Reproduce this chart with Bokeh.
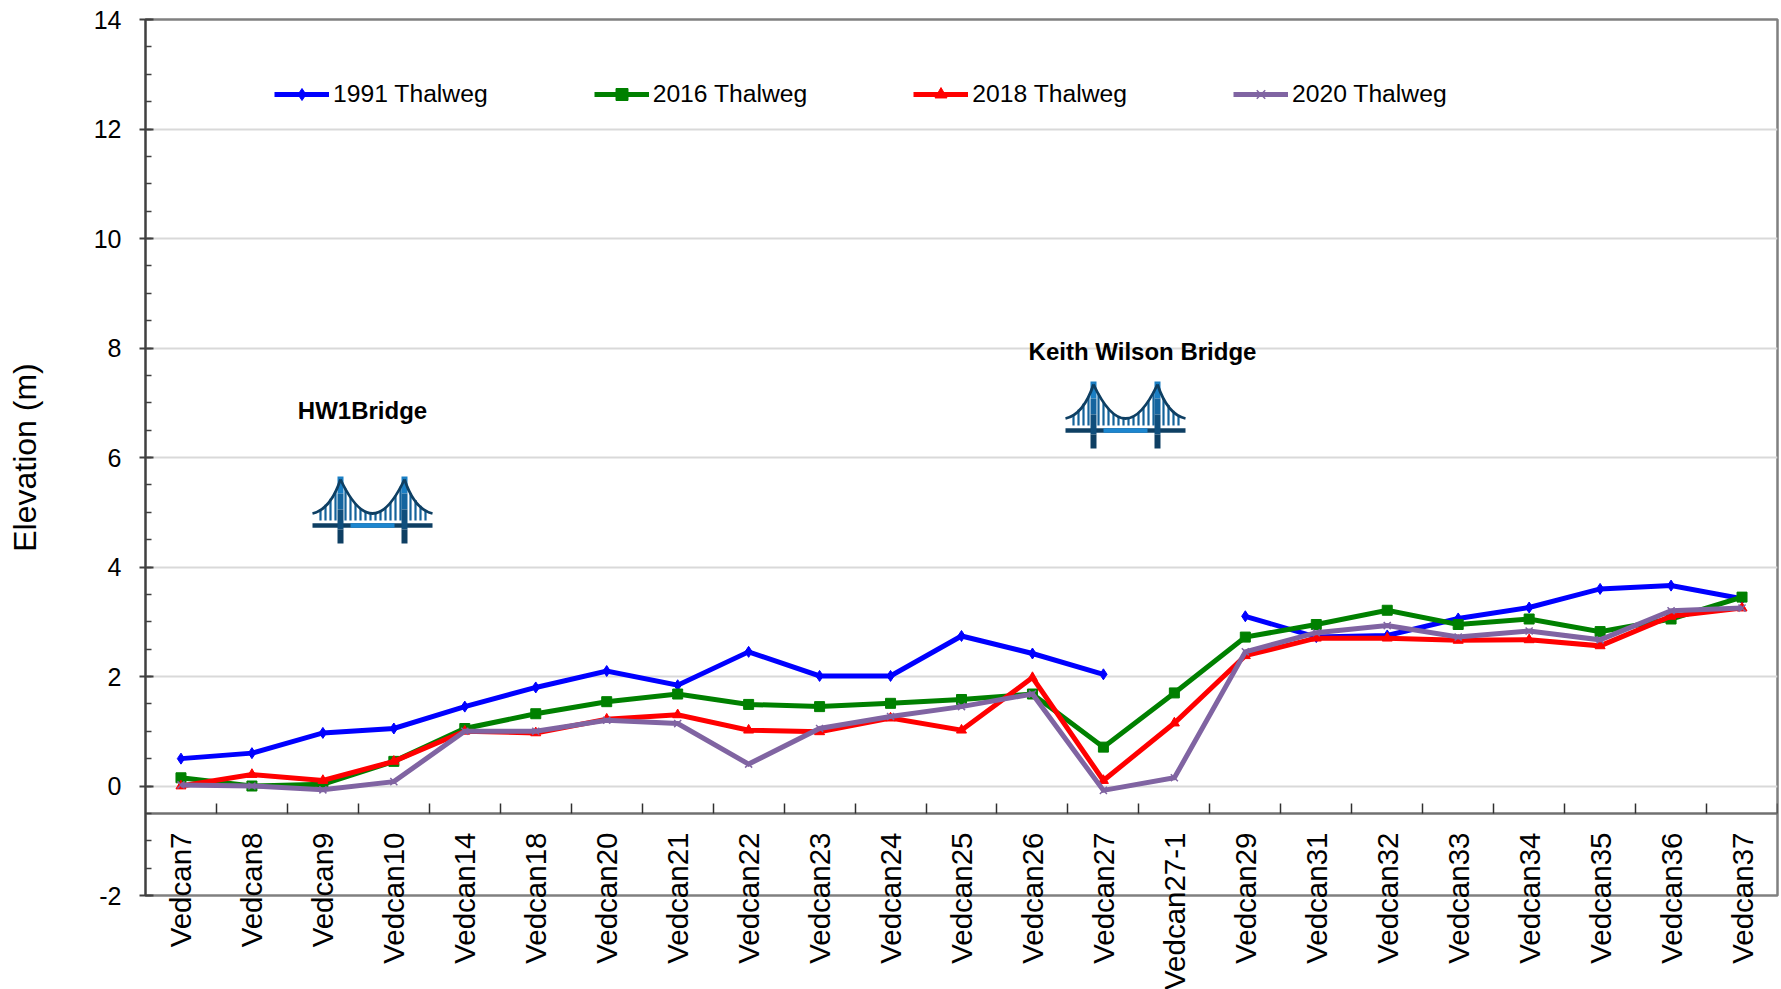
import math
from bokeh.embed import file_html
from bokeh.resources import INLINE
from bokeh.plotting import figure
from bokeh.models import FixedTicker, Legend, LegendItem, Label, Range1d, LinearAxis

categories = ["Vedcan7","Vedcan8","Vedcan9","Vedcan10","Vedcan14","Vedcan18","Vedcan20","Vedcan21",
              "Vedcan22","Vedcan23","Vedcan24","Vedcan25","Vedcan26","Vedcan27","Vedcan27-1","Vedcan29",
              "Vedcan31","Vedcan32","Vedcan33","Vedcan34","Vedcan35","Vedcan36","Vedcan37"]
t1991 = [0.50,0.60,0.97,1.05,1.45,1.80,2.10,1.84,2.45,2.01,2.01,2.74,2.42,2.04,None,3.10,2.72,2.75,3.06,3.26,3.60,3.66,3.42]
t2016 = [0.15,0.00,0.03,0.45,1.05,1.32,1.54,1.68,1.49,1.45,1.51,1.58,1.68,0.71,1.70,2.72,2.95,3.21,2.95,3.05,2.82,3.05,3.45]
t2018 = [0.00,0.21,0.10,0.45,1.00,0.97,1.22,1.30,1.02,0.99,1.24,1.02,1.98,0.10,1.15,2.38,2.70,2.70,2.66,2.67,2.56,3.10,3.25]
t2020 = [0.02,0.00,-0.07,0.08,1.00,1.00,1.20,1.14,0.40,1.05,1.27,1.45,1.68,-0.08,0.15,2.45,2.80,2.93,2.72,2.83,2.67,3.20,3.25]
y_major = [-2,0,2,4,6,8,10,12,14]
y_minor = [v*0.5 for v in range(-4,29)]

FONT = "Liberation Sans"
W, H = 1781, 989
L, R, T, B = 145, 1777, 19, 895   # frame edges, page pixels
n = len(categories)

p = figure(width=W, height=H, output_backend="svg", toolbar_location=None,
           x_range=Range1d(-0.5, n-0.5), y_range=Range1d(-2, 14),
           frame_width=R-L, frame_height=B-T,
           min_border_left=L, min_border_top=T, min_border_right=W-R, min_border_bottom=H-B,
           background_fill_color="white", border_fill_color=None,
           outline_line_color="#808080", outline_line_width=2.5)

def px(v): return -0.5 + (v-L)/(R-L)*n
def py(v): return 14 - (v-T)/(B-T)*16

p.xgrid.visible = False
p.ygrid.grid_line_color = "#D9D9D9"
p.ygrid.grid_line_width = 2

yax = p.yaxis[0]
yax.ticker = FixedTicker(ticks=y_major, minor_ticks=y_minor)
yax.major_label_overrides = {-2: "-2"}
yax.major_label_text_font = FONT
yax.major_label_text_font_size = "25px"
yax.major_label_text_color = "black"
yax.major_label_standoff = 18
yax.axis_line_color = "#404040"
yax.axis_line_width = 2
yax.major_tick_line_color = "#404040"
yax.major_tick_line_width = 2
yax.major_tick_in = 8
yax.major_tick_out = 6
yax.minor_tick_line_color = "#404040"
yax.minor_tick_line_width = 1.5
yax.minor_tick_in = 6
yax.minor_tick_out = 0

# the axis title sits off the frame's centre: a bare axis whose span is centred where the title belongs
title_ax = LinearAxis(ticker=FixedTicker(ticks=[]), bounds=(-2, 13.46), axis_label="Elevation (m)")
title_ax.axis_line_color = None
title_ax.major_tick_line_color = None
title_ax.minor_tick_line_color = None
title_ax.major_tick_in = 0
title_ax.major_tick_out = 0
title_ax.minor_tick_in = 0
title_ax.minor_tick_out = 0
title_ax.axis_label_text_font = FONT
title_ax.axis_label_text_font_size = "32px"
title_ax.axis_label_text_font_style = "normal"
title_ax.axis_label_text_color = "black"
title_ax.axis_label_standoff = 48
p.add_layout(title_ax, "left")

# category labels: an axis on the frame's lower edge, its labels pulled back up to overhang the edge
xax = p.xaxis[0]
xax.ticker = FixedTicker(ticks=list(range(n)))
xax.major_label_overrides = {i: c for i, c in enumerate(categories)}
xax.major_label_orientation = math.pi/2
xax.major_label_text_font = FONT
xax.major_label_text_font_size = "29.5px"
xax.major_label_text_color = "black"
xax.major_label_standoff = -63
xax.axis_line_color = None
xax.major_tick_line_color = None
xax.minor_tick_line_color = None
xax.major_tick_in = 0
xax.major_tick_out = 0

# the category axis line with its separators, crossing at -0.5
sep = LinearAxis(fixed_location=-0.5, ticker=FixedTicker(ticks=[], minor_ticks=[i+0.5 for i in range(n)]))
sep.axis_line_color = "#707070"
sep.axis_line_width = 2.5
sep.minor_tick_line_color = "#303030"
sep.minor_tick_line_width = 1.5
sep.minor_tick_in = 10
sep.minor_tick_out = 0
p.add_layout(sep, "below")

# bridge pictograms
def bridge(cx, deck):
    navy, mid, bright = "#0E3F63", "#14639B", "#1C86CF"
    X = lambda d: px(cx+d)
    Y = lambda d: py(deck+d)
    for i in range(1, 23):
        d = -57 + i*5
        if abs(abs(d)-32) < 3: continue
        if abs(d) <= 32:
            top = -12 - 35*(abs(d)/32)**2
        else:
            top = -12 - 30*((60-abs(d))/28)**1.6
        p.segment([X(d)], [Y(top)], [X(d)], [Y(-5)], line_color=mid, line_width=2.2)
    p.segment([X(-60)], [Y(0)], [X(60)], [Y(0)], line_color=navy, line_width=4.5)
    p.segment([X(-22)], [Y(0)], [X(22)], [Y(0)], line_color=bright, line_width=4.5)
    for side in (-1, 1):
        bands = [(-49, -32, "#1B7FC4"), (-32, -16, "#15659F"), (-16, 4, "#0F4E7C"), (4, 18, navy)]
        for a, b, col in bands:
            p.segment([X(side*32)], [Y(a)], [X(side*32)], [Y(b)], line_color=col, line_width=6)
        p.quadratic([X(side*60)], [Y(-12)], [X(side*32)], [Y(-46)], [X(side*42)], [Y(-16)],
                    line_color=navy, line_width=2.8)
    p.quadratic([X(-32)], [Y(-46)], [X(32)], [Y(-46)], [X(0)], [Y(22)], line_color=navy, line_width=2.8)

bridge(372, 525)
bridge(1125, 430)

x = list(range(n))
nan = float("nan")
def clean(a): return [nan if v is None else v for v in a]
series = [("1991 Thalweg", t1991, "#0000FF", "diamond", 11),
          ("2016 Thalweg", t2016, "#008000", "square", 10),
          ("2018 Thalweg", t2018, "#FF0000", "triangle", 10),
          ("2020 Thalweg", t2020, "#8064A2", "x", 10)]
items = []
for name, vals, col, mk, size in series:
    v = clean(vals)
    ln = p.line(x, v, line_color=col, line_width=5, line_join="miter")
    if mk == "x":
        sc = p.scatter(x, v, marker=mk, size=size, line_color=col, line_width=1.5)
    else:
        sc = p.scatter(x, v, marker=mk, size=size, fill_color=col, line_color=col)
    items.append(LegendItem(label=name, renderers=[ln, sc]))

leg = Legend(items=items, orientation="horizontal", location=(274-L, B-109),
             background_fill_alpha=0, border_line_alpha=0, padding=0, margin=0,
             spacing=106, glyph_width=55, glyph_height=30, label_height=30,
             label_standoff=4, label_text_font=FONT, label_text_font_size="24.7px",
             label_text_color="black", label_text_baseline="middle")
p.add_layout(leg, "center")

for text, cx, cy in [("HW1Bridge", 362, 410), ("Keith Wilson Bridge", 1142, 351)]:
    p.add_layout(Label(x=px(cx), y=py(cy), text=text, text_font=FONT, text_font_size="24px",
                       text_font_style="bold", text_color="black", text_align="center",
                       text_baseline="middle"))

open("out.html", "w").write(file_html(p, INLINE))
